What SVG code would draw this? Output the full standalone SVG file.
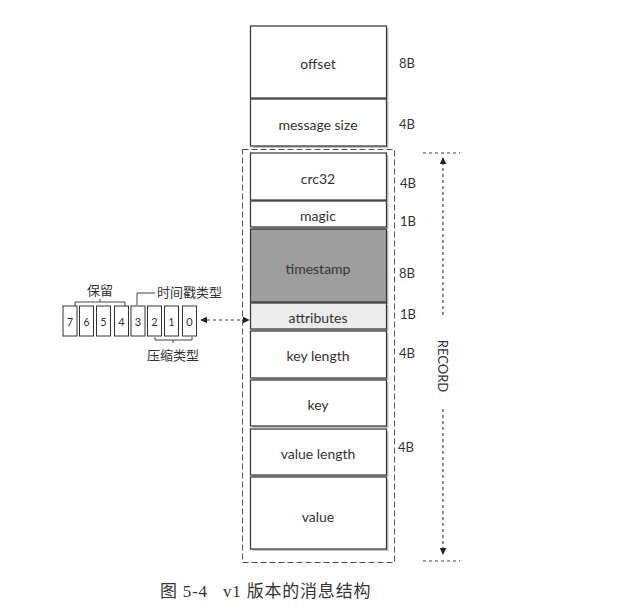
<svg xmlns="http://www.w3.org/2000/svg" width="644" height="615" viewBox="0 0 644 615">
<style>
.box{stroke:#333;stroke-width:1.2;fill:#fff}
.shadow{fill:#c4c4c4}
.lbl{font-family:Lato,"Open Sans",sans-serif;font-size:14px;fill:#333;text-anchor:middle;dominant-baseline:central}
.sz{font-family:Lato,"Open Sans",sans-serif;font-size:13px;fill:#333;dominant-baseline:central}
.cell{stroke:#333;stroke-width:1;fill:#fff}
.cnum{font-family:Lato,"Open Sans",sans-serif;font-size:11px;fill:#333;text-anchor:middle;dominant-baseline:central}
.cjk{font-family:"Noto Sans CJK SC",sans-serif;font-size:13px;fill:#333}
.br{stroke:#444;stroke-width:1;fill:none}
.dash{stroke:#444;stroke-width:1.2;stroke-dasharray:3,3;fill:none}
.cap{font-family:"Liberation Serif","Noto Sans CJK SC",serif;font-size:17px;fill:#333;letter-spacing:0.8px}
</style>
<defs>
<marker id="ah" viewBox="0 0 10 10" refX="9" refY="5" markerWidth="7" markerHeight="7" orient="auto-start-reverse" markerUnits="userSpaceOnUse">
<path d="M0,0 L10,5 L0,10 z" fill="#222"/>
</marker>
</defs>
<rect width="644" height="615" fill="#fff"/>

<g id="record-frame">
<rect x="242.5" y="149.5" width="152" height="413" fill="none" stroke="#555" stroke-width="1" stroke-dasharray="6,3"/>
</g>

<g id="offset"><rect class="shadow" x="252.5" y="28" width="136" height="72"/><rect class="box" x="250.5" y="26" width="136" height="72"/><text class="lbl" x="318" y="63">offset</text><text class="sz" x="399" y="63">8B</text></g>
<g id="message-size"><rect class="shadow" x="252.5" y="101" width="136" height="47"/><rect class="box" x="250.5" y="99" width="136" height="47"/><text class="lbl" x="318" y="124">message size</text><text class="sz" x="399" y="124">4B</text></g>
<g id="crc32"><rect class="shadow" x="252.5" y="155" width="136" height="47"/><rect class="box" x="250.5" y="153" width="136" height="47"/><text class="lbl" x="318" y="178">crc32</text><text class="sz" x="400" y="183">4B</text></g>
<g id="magic"><rect class="shadow" x="252.5" y="203" width="136" height="26"/><rect class="box" x="250.5" y="201" width="136" height="26"/><text class="lbl" x="318" y="215">magic</text><text class="sz" x="400" y="221">1B</text></g>
<g id="timestamp"><rect class="shadow" x="252.5" y="231" width="136" height="73"/><rect class="box" x="250.5" y="229" width="136" height="73" style="fill:#9e9e9e"/><text class="lbl" x="318" y="268">timestamp</text><text class="sz" x="399" y="273">8B</text></g>
<g id="attributes"><rect class="shadow" x="252.5" y="305" width="136" height="26"/><rect class="box" x="250.5" y="303" width="136" height="26" style="fill:#ececec"/><text class="lbl" x="318" y="317">attributes</text><text class="sz" x="400" y="314">1B</text></g>
<g id="key-length"><rect class="shadow" x="252.5" y="333" width="136" height="47"/><rect class="box" x="250.5" y="331" width="136" height="47"/><text class="lbl" x="318" y="355">key length</text><text class="sz" x="399" y="353">4B</text></g>
<g id="key"><rect class="shadow" x="252.5" y="382" width="136" height="46"/><rect class="box" x="250.5" y="380" width="136" height="46"/><text class="lbl" x="318" y="404">key</text></g>
<g id="value-length"><rect class="shadow" x="252.5" y="431" width="136" height="46"/><rect class="box" x="250.5" y="429" width="136" height="46"/><text class="lbl" x="318" y="453">value length</text><text class="sz" x="398" y="447">4B</text></g>
<g id="value"><rect class="shadow" x="252.5" y="479" width="136" height="72"/><rect class="box" x="250.5" y="477" width="136" height="72"/><text class="lbl" x="318" y="516">value</text></g>

<g id="bits">
<rect class="cell" x="63" y="306" width="14" height="30"/><text class="cnum" x="70" y="321">7</text>
<rect class="cell" x="79.5" y="306" width="14" height="30"/><text class="cnum" x="86.5" y="321">6</text>
<rect class="cell" x="96.5" y="306" width="14" height="30"/><text class="cnum" x="103.5" y="321">5</text>
<rect class="cell" x="114.5" y="306" width="14" height="30"/><text class="cnum" x="121.5" y="321">4</text>
<rect class="cell" x="131" y="306" width="14" height="30"/><text class="cnum" x="138" y="321">3</text>
<rect class="cell" x="147.5" y="306" width="14" height="30"/><text class="cnum" x="154.5" y="321">2</text>
<rect class="cell" x="164.5" y="306" width="14" height="30"/><text class="cnum" x="171.5" y="321">1</text>
<rect class="cell" x="182.5" y="306" width="14" height="30"/><text class="cnum" x="189.5" y="321">0</text>
</g>

<g id="reserved-label">
<path class="br" d="M75,306 V302 H125 V306 M100,302 V299"/>
<text class="cjk" x="100" y="295" text-anchor="middle">保留</text>
</g>
<g id="timestamp-type-label">
<path class="br" d="M137,305 V293 H155"/>
<text class="cjk" x="157" y="297">时间戳类型</text>
</g>
<g id="compression-label">
<path class="br" d="M155,337 V340 H192 V337 M173,340 V343"/>
<text class="cjk" x="173" y="360" text-anchor="middle">压缩类型</text>
</g>

<g id="connectors">
<line class="dash" x1="201" y1="320" x2="249" y2="320" marker-start="url(#ah)" marker-end="url(#ah)"/>
<line class="dash" x1="423" y1="153" x2="460" y2="153"/>
<line class="dash" x1="423" y1="561" x2="460" y2="561"/>
<line class="dash" x1="443" y1="315" x2="443" y2="158" marker-end="url(#ah)"/>
<line class="dash" x1="443" y1="409" x2="443" y2="554" marker-end="url(#ah)"/>
</g>
<g id="record-label">
<text x="443" y="366" transform="rotate(90 443 366)" style="font-family:Lato,'Open Sans',sans-serif;font-size:13px;fill:#333;text-anchor:middle;dominant-baseline:central">RECORD</text>
</g>

<g id="caption">
<text class="cap" x="160" y="597">图 5-4</text>
<text class="cap" x="223" y="597">v1 版本的消息结构</text>
</g>
</svg>
